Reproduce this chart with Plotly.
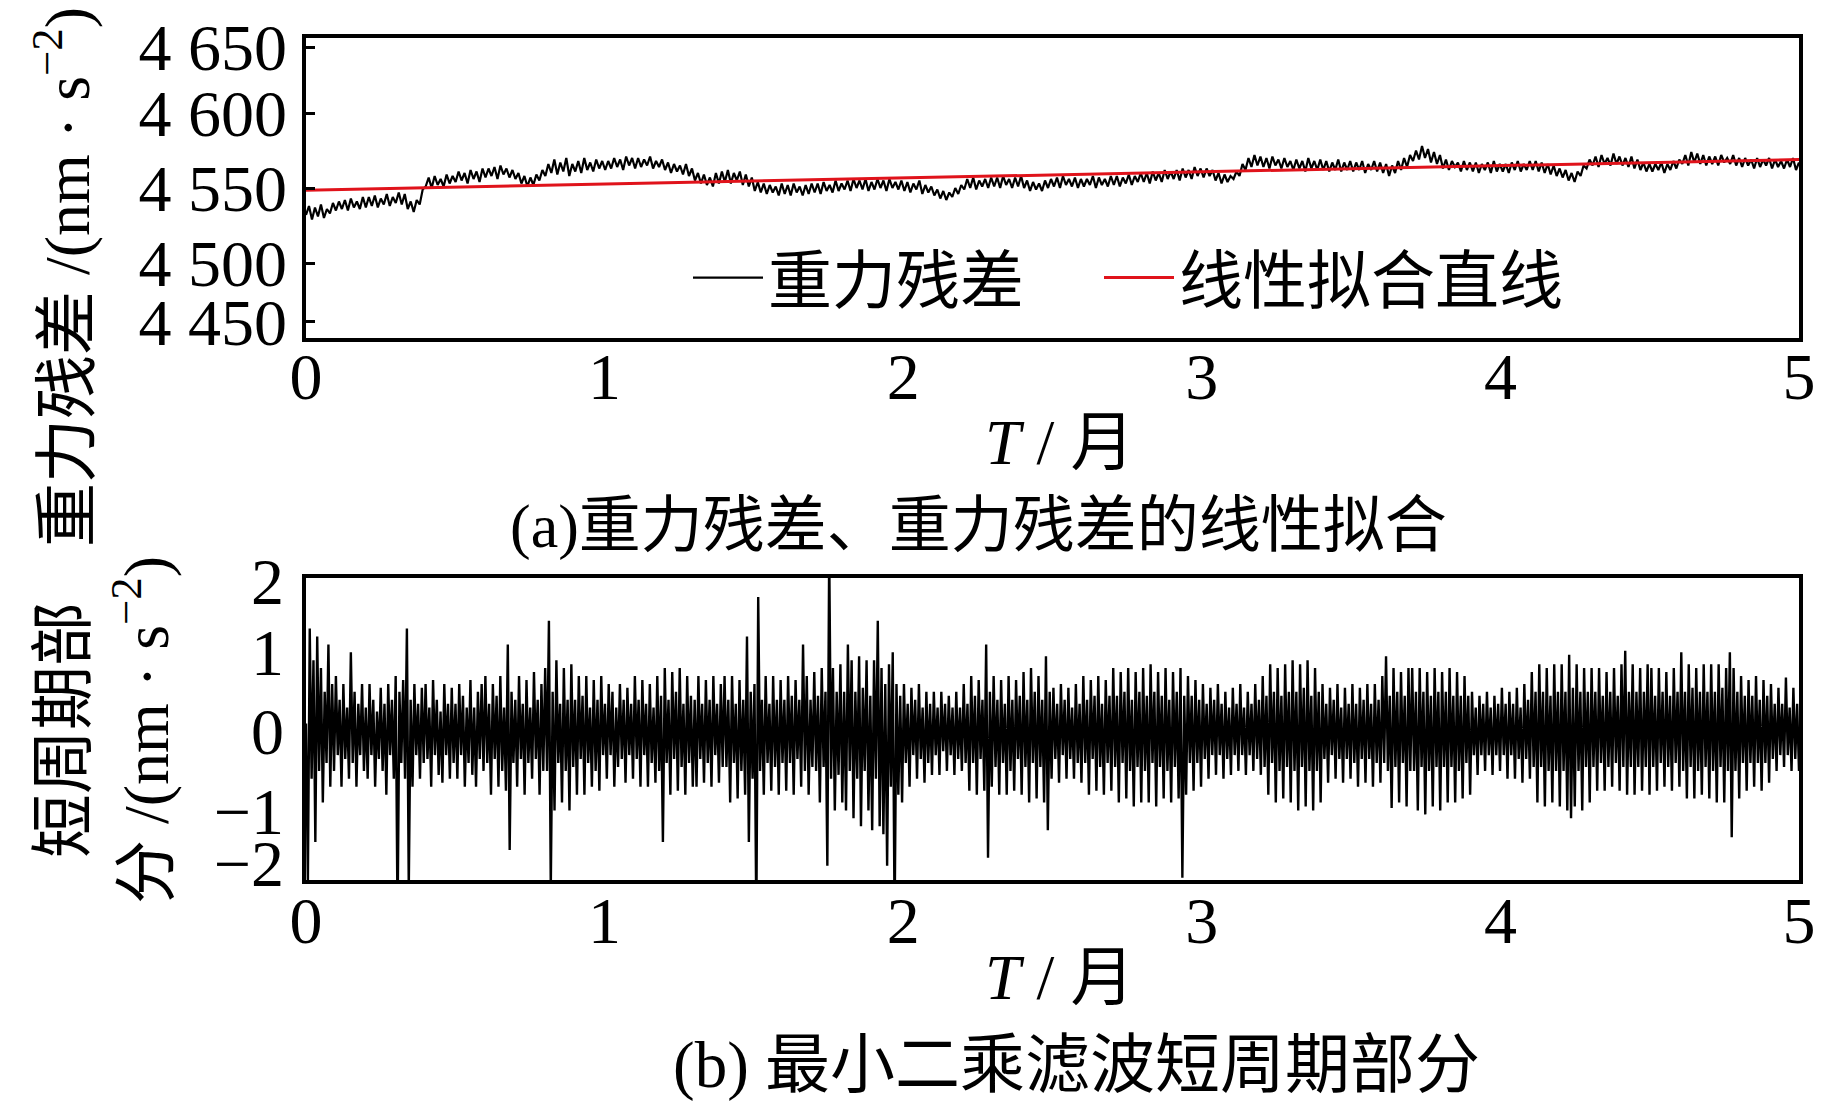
import numpy as np
import plotly.graph_objects as go

# ---------------- data ----------------
# (a) gravity residual, nm/s^2, 500 samples evenly spread over 0..5 months
residual = [
    4532,4538,4529,4537,4531,4539,4530,4536,4533,4540,
    4535,4541,4536,4542,4535,4543,4537,4541,4536,4544,
    4537,4544,4538,4545,4537,4543,4539,4546,4538,4544,
    4540,4547,4539,4546,4536,4541,4534,4542,4539,4549,
    4551,4557,4550,4558,4552,4556,4551,4559,4553,4558,
    4554,4561,4555,4560,4553,4562,4556,4561,4554,4563,
    4557,4563,4558,4564,4556,4565,4559,4563,4557,4562,
    4556,4560,4553,4558,4551,4557,4552,4559,4555,4562,
    4558,4566,4560,4569,4559,4567,4561,4570,4558,4566,
    4561,4568,4560,4570,4562,4567,4561,4569,4563,4568,
    4562,4568,4563,4570,4564,4569,4562,4571,4565,4570,
    4563,4570,4564,4569,4565,4571,4563,4568,4564,4569,
    4562,4567,4560,4566,4561,4565,4559,4566,4558,4563,
    4555,4560,4553,4559,4552,4557,4551,4560,4553,4561,
    4554,4562,4553,4560,4555,4561,4552,4559,4551,4557,
    4548,4554,4547,4553,4546,4552,4547,4551,4545,4553,
    4546,4552,4545,4553,4547,4551,4545,4552,4546,4553,
    4547,4553,4546,4554,4548,4552,4547,4555,4548,4553,
    4549,4555,4548,4556,4550,4555,4549,4556,4548,4554,
    4549,4556,4550,4555,4548,4556,4550,4554,4549,4555,
    4548,4554,4547,4553,4549,4555,4546,4552,4547,4551,
    4545,4549,4543,4548,4542,4547,4544,4550,4546,4552,
    4549,4556,4550,4557,4549,4555,4551,4556,4550,4557,
    4551,4557,4550,4558,4552,4556,4550,4557,4551,4558,
    4550,4555,4548,4554,4549,4553,4548,4555,4550,4556,
    4551,4557,4550,4558,4552,4556,4551,4557,4550,4556,
    4551,4556,4552,4558,4550,4557,4552,4556,4551,4558,
    4552,4558,4551,4557,4553,4559,4552,4558,4554,4560,
    4554,4560,4553,4561,4555,4560,4554,4562,4556,4561,
    4556,4562,4555,4563,4557,4562,4556,4564,4558,4563,
    4557,4563,4558,4562,4555,4560,4553,4559,4554,4558,
    4556,4561,4558,4566,4562,4570,4564,4572,4565,4571,
    4564,4570,4563,4571,4565,4569,4563,4570,4564,4568,
    4562,4569,4563,4568,4561,4570,4563,4568,4562,4569,
    4562,4568,4561,4567,4562,4569,4561,4567,4562,4568,
    4561,4567,4562,4568,4560,4566,4562,4568,4561,4567,
    4560,4566,4558,4565,4560,4568,4562,4570,4564,4572,
    4568,4575,4569,4578,4570,4576,4567,4574,4566,4572,
    4563,4569,4562,4568,4564,4567,4561,4568,4562,4567,
    4561,4567,4560,4566,4562,4567,4560,4568,4561,4566,
    4561,4566,4560,4567,4562,4568,4561,4566,4562,4568,
    4562,4568,4561,4567,4560,4566,4559,4565,4558,4563,
    4557,4562,4555,4560,4554,4561,4558,4565,4563,4569,
    4565,4571,4564,4572,4566,4570,4565,4573,4566,4571,
    4565,4570,4564,4571,4563,4569,4562,4567,4561,4566,
    4561,4566,4562,4567,4560,4566,4562,4568,4563,4569,
    4566,4572,4565,4574,4567,4573,4566,4572,4565,4571,
    4566,4571,4565,4572,4567,4570,4566,4572,4565,4570,
    4564,4570,4565,4569,4563,4570,4564,4569,4565,4570,
    4563,4569,4564,4568,4563,4569,4564,4570,4562,4567,
]
# linear fit of the residual, read at both ends (months, nm/s^2)
fit_months = [0, 5]
fit_values = [4548.5, 4569.0]

# (b) short-period part, nm/s^2, 800 samples evenly spread over 0..5 months
short_period = [
    0.1,-1.9,1.3,-0.6,0.9,-1.4,1.2,-0.5,0.8,-0.9,0.5,-0.4,1.1,-0.7,0.6,-0.5,
    0.7,-0.3,0.4,-0.7,0.6,-0.35,0.3,-0.6,1.0,-0.4,0.5,-0.7,0.35,-0.3,0.6,-0.5,
    0.3,-0.6,0.6,-0.3,0.4,-0.7,0.25,-0.35,0.55,-0.5,0.35,-0.8,0.6,-0.3,0.4,-0.6,
    0.7,-2.4,0.5,-0.4,0.65,-0.6,1.3,-2.0,0.4,-0.7,0.6,-0.3,0.35,-0.6,0.55,-0.4,
    0.6,-0.35,0.3,-0.7,0.65,-0.3,0.4,-0.55,0.25,-0.65,0.6,-0.3,0.35,-0.6,0.55,-0.4,
    0.35,-0.6,0.6,-0.3,0.45,-0.7,0.3,-0.4,0.65,-0.55,0.3,-0.7,0.5,-0.35,0.6,-0.5,
    0.7,-0.4,0.35,-0.8,0.6,-0.35,0.45,-0.7,0.7,-0.5,0.3,-0.75,1.1,-1.5,0.5,-0.4,
    0.4,-0.7,0.7,-0.35,0.35,-0.8,0.65,-0.4,0.3,-0.6,0.75,-0.35,0.4,-0.8,0.6,-0.5,
    0.8,-0.5,1.4,-2.0,0.5,-1.0,0.9,-0.4,0.35,-0.9,0.8,-0.5,0.4,-1.0,0.85,-0.45,
    0.4,-0.8,0.7,-0.35,0.45,-0.8,0.7,-0.4,0.3,-0.7,0.65,-0.5,0.4,-0.75,0.7,-0.3,
    0.35,-0.6,0.6,-0.3,0.5,-0.7,0.3,-0.45,0.6,-0.35,0.4,-0.65,0.55,-0.3,0.35,-0.6,
    0.7,-0.35,0.4,-0.7,0.65,-0.3,0.35,-0.7,0.6,-0.4,0.3,-0.65,0.7,-0.5,0.45,-1.4,
    0.8,-0.4,0.4,-0.8,0.75,-0.35,0.5,-0.75,0.8,-0.45,0.35,-0.8,0.7,-0.4,0.45,-0.7,
    0.4,-0.7,0.7,-0.35,0.35,-0.65,0.65,-0.4,0.4,-0.7,0.7,-0.3,0.35,-0.65,0.6,-0.45,
    0.7,-0.45,0.4,-0.9,0.7,-0.4,0.35,-0.85,0.65,-0.5,0.4,-0.8,1.2,-1.4,0.5,-0.6,
    0.6,-2.4,1.7,-0.5,0.4,-0.8,0.7,-0.4,0.35,-0.75,0.7,-0.45,0.4,-0.8,0.65,-0.4,
    0.4,-0.75,0.7,-0.4,0.45,-0.8,0.65,-0.35,0.4,-0.7,1.1,-0.5,0.7,-0.8,0.4,-0.45,
    0.75,-0.5,0.45,-0.9,0.8,-0.45,0.5,-1.7,2.3,-0.6,0.8,-1.0,0.5,-0.55,0.85,-0.9,
    0.5,-1.0,1.1,-0.5,0.9,-1.1,0.5,-0.6,0.95,-1.2,0.55,-0.5,0.9,-1.0,0.45,-1.25,
    0.9,-0.6,1.4,-1.2,0.8,-1.3,0.6,-1.7,0.85,-0.7,1.0,-2.4,0.6,-0.8,0.45,-0.9,
    0.6,-0.4,0.35,-0.7,0.55,-0.3,0.4,-0.6,0.6,-0.35,0.3,-0.65,0.5,-0.4,0.35,-0.55,
    0.5,-0.3,0.3,-0.55,0.5,-0.25,0.35,-0.5,0.45,-0.3,0.3,-0.55,0.5,-0.35,0.3,-0.5,
    0.6,-0.4,0.35,-0.75,0.7,-0.4,0.45,-0.8,0.65,-0.35,0.4,-0.75,1.1,-1.6,0.5,-0.7,
    0.7,-0.45,0.4,-0.8,0.65,-0.4,0.35,-0.8,0.7,-0.5,0.4,-0.75,0.65,-0.35,0.45,-0.8,
    0.75,-0.45,0.4,-0.9,0.8,-0.4,0.5,-0.85,0.7,-0.45,0.4,-0.9,0.95,-1.25,0.5,-0.6,
    0.55,-0.35,0.35,-0.65,0.6,-0.3,0.4,-0.6,0.55,-0.35,0.3,-0.6,0.6,-0.4,0.35,-0.65,
    0.7,-0.4,0.4,-0.8,0.65,-0.35,0.45,-0.75,0.7,-0.45,0.35,-0.8,0.65,-0.4,0.45,-0.75,
    0.8,-0.45,0.45,-0.9,0.75,-0.4,0.5,-0.85,0.8,-0.5,0.4,-0.95,0.75,-0.45,0.5,-0.9,
    0.8,-0.5,0.45,-0.9,0.85,-0.4,0.5,-0.95,0.75,-0.45,0.45,-0.85,0.8,-0.5,0.4,-0.9,
    0.75,-0.45,0.5,-0.85,0.8,-1.85,0.45,-0.8,0.7,-0.4,0.45,-0.75,0.65,-0.4,0.4,-0.7,
    0.6,-0.35,0.35,-0.6,0.55,-0.3,0.4,-0.55,0.6,-0.3,0.35,-0.6,0.5,-0.35,0.3,-0.55,
    0.55,-0.3,0.35,-0.5,0.6,-0.3,0.3,-0.55,0.5,-0.3,0.35,-0.5,0.6,-0.35,0.4,-0.55,
    0.7,-0.45,0.45,-0.8,0.85,-0.4,0.5,-0.9,0.8,-0.5,0.45,-0.85,0.85,-0.45,0.5,-0.9,
    0.9,-0.5,0.5,-1.0,0.85,-0.45,0.55,-0.95,0.9,-0.5,0.45,-1.0,0.8,-0.5,0.5,-0.9,
    0.6,-0.35,0.35,-0.65,0.55,-0.3,0.4,-0.6,0.6,-0.35,0.3,-0.65,0.55,-0.35,0.35,-0.6,
    0.6,-0.4,0.35,-0.7,0.55,-0.35,0.4,-0.65,0.6,-0.35,0.35,-0.7,0.6,-0.4,0.4,-0.65,
    0.7,-0.4,0.95,-0.5,0.45,-0.97,0.8,-0.45,0.5,-0.9,0.75,-0.4,0.45,-0.95,0.8,-0.5,
    0.8,-0.5,0.5,-1.0,0.8,-0.45,0.5,-1.05,0.75,-0.5,0.45,-0.95,0.8,-0.45,0.5,-1.0,
    0.75,-0.45,0.5,-0.9,0.8,-0.45,0.45,-0.9,0.75,-0.5,0.45,-0.85,0.7,-0.4,0.45,-0.8,
    0.5,-0.3,0.3,-0.55,0.45,-0.3,0.35,-0.5,0.5,-0.3,0.3,-0.55,0.45,-0.3,0.35,-0.5,
    0.55,-0.3,0.35,-0.6,0.5,-0.3,0.35,-0.6,0.55,-0.35,0.3,-0.65,0.6,-0.35,0.4,-0.6,
    0.75,-0.45,0.5,-0.9,0.85,-0.45,0.5,-0.95,0.8,-0.5,0.45,-0.9,0.85,-0.5,0.5,-0.95,
    0.85,-0.5,0.5,-1.0,0.97,-1.1,0.55,-0.95,0.85,-0.5,0.5,-1.0,0.8,-0.45,0.5,-0.9,
    0.8,-0.45,0.5,-0.75,0.8,-0.4,0.45,-0.75,0.75,-0.45,0.5,-0.7,0.8,-0.4,0.45,-0.75,
    0.85,-0.45,1.02,-0.8,0.5,-0.45,0.85,-0.8,0.5,-0.45,0.8,-0.75,0.5,-0.45,0.85,-0.8,
    0.8,-0.45,0.45,-0.75,0.8,-0.4,0.5,-0.7,0.75,-0.45,0.45,-0.75,0.8,-0.4,0.5,-0.7,
    1.0,-0.5,0.5,-0.85,0.85,-0.45,0.55,-0.85,0.8,-0.5,0.5,-0.8,0.85,-0.45,0.5,-0.85,
    0.85,-0.5,0.5,-0.9,0.85,-0.45,0.55,-0.9,0.8,-0.5,1.0,-1.34,0.8,-0.5,0.5,-0.85,
    0.7,-0.4,0.45,-0.75,0.65,-0.4,0.45,-0.7,0.7,-0.4,0.4,-0.75,0.65,-0.4,0.45,-0.65,
    0.6,-0.35,0.35,-0.5,0.55,-0.3,0.35,-0.45,0.68,-0.3,0.3,-0.5,0.55,-0.35,0.35,-0.5,
]

x_ticks = [0, 1, 2, 3, 4, 5]
top_tick_vals = [4644, 4600, 4550, 4500, 4461]
top_tick_text = ["4 650", "4 600", "4 550", "4 500", "4 450"]
bot_tick_vals = [1.9, 1, 0, -1, -1.66]
bot_tick_text = ["2", "1", "0", "\u22121", "\u22122"]

legend_names = ["重力残差", "线性拟合直线"]

# ---------------- figure ----------------
W, H = 1843, 1110
OFF = 7  # page body margin: the figure is drawn a few px in from the window corner
FONT = "Liberation Serif, Times New Roman, Noto Sans CJK SC"


def px(xp):
    return (xp - OFF) / W


def py(yp):
    return 1 - (yp - OFF) / H


months_a = np.linspace(0, 5, len(residual))
months_b = np.linspace(0, 5, len(short_period))

fig = go.Figure()
fig.add_trace(go.Scatter(x=months_a, y=residual, mode="lines", name=legend_names[0],
                         legendwidth=326,
                         line=dict(color="black", width=2.2), xaxis="x", yaxis="y"))
fig.add_trace(go.Scatter(x=fit_months, y=fit_values, mode="lines", name=legend_names[1],
                         line=dict(color="#e0131b", width=3), xaxis="x", yaxis="y"))
fig.add_trace(go.Scatter(x=months_b, y=short_period, mode="lines", showlegend=False,
                         line=dict(color="black", width=2.4), xaxis="x2", yaxis="y2"))

xdom = [px(305), px(1798)]
axis_common = dict(showline=True, linecolor="black", linewidth=3.5, mirror=True,
                   showgrid=False, zeroline=False, automargin=False,
                   tickfont=dict(family=FONT, size=66, color="black"))

fig.update_layout(
    width=W, height=H,
    margin=dict(l=0, r=0, t=0, b=0, autoexpand=False),
    paper_bgcolor="white", plot_bgcolor="white",
    font=dict(family=FONT, color="black"),
    xaxis=dict(domain=xdom, range=[0, 5], tickvals=x_ticks, ticks="", anchor="y",
               ticklabelstandoff=-22, **axis_common),
    yaxis=dict(domain=[py(337), py(37)], range=[4450, 4650], anchor="x",
               tickvals=top_tick_vals, ticktext=top_tick_text,
               ticks="inside", ticklen=9, tickwidth=3, tickcolor="black",
               ticklabelstandoff=2, **axis_common),
    xaxis2=dict(domain=xdom, range=[0, 5], tickvals=x_ticks, ticks="", anchor="y2",
                ticklabelstandoff=-20, **axis_common),
    yaxis2=dict(domain=[py(879), py(577)], range=[-1.88, 1.94], anchor="x2",
                tickvals=bot_tick_vals, ticktext=bot_tick_text,
                ticks="", ticklabelstandoff=5, **axis_common),
    legend=dict(orientation="h", x=px(693 - 6), xanchor="left",
                y=py(277), yanchor="middle",
                bgcolor="rgba(0,0,0,0)", font=dict(family=FONT, size=64, color="black"),
                itemwidth=70),
    showlegend=True,
)

annotations = [
    dict(text="<i>T</i> / 月", x=px(1058), y=py(441), size=64),
    dict(text="(a)重力残差、重力残差的线性拟合", x=px(977), y=py(525), size=62),
    dict(text="<i>T</i> / 月", x=px(1058), y=py(976), size=64),
    dict(text="(b) 最小二乘滤波短周期部分", x=px(1075), y=py(1064), size=65),
    dict(text="重力残差 /(nm · s<sup>\u22122</sup>)", x=px(62), y=py(276), size=64, textangle=-90),
    dict(text="短周期部<br>分 /(nm · s<sup>\u22122</sup>)", x=px(104), y=py(729), size=64, textangle=-90),
]
for a in annotations:
    fs = a.pop("size")
    fig.add_annotation(xref="paper", yref="paper", showarrow=False,
                       xanchor="center", yanchor="middle",
                       font=dict(family=FONT, size=fs, color="black"), **a)

fig.write_html("out.html")
